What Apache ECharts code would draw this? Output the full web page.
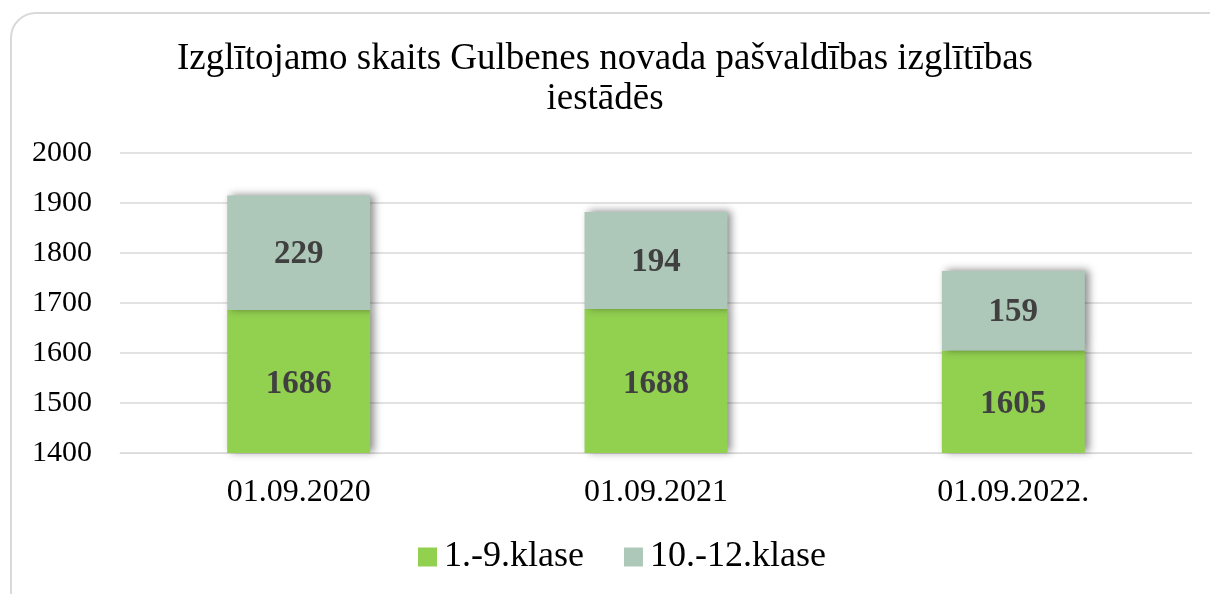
<!DOCTYPE html>
<html><head><meta charset="utf-8">
<script src="https://cdn.jsdelivr.net/npm/echarts@6/dist/echarts.min.js"></script>
<style>
html,body{margin:0;padding:0;background:#fff;}
#frame{position:absolute;left:10px;top:12px;width:1230px;height:620px;border:2px solid #d9d9d9;border-radius:26px;box-sizing:border-box;}
#c{position:absolute;left:0;top:0;width:1210px;height:594px;}
</style></head>
<body>
<div id="frame"></div>
<div id="c"></div>
<script>
const categories = ['01.09.2020', '01.09.2021', '01.09.2022.'];
const seriesNames = ['1.-9.klase', '10.-12.klase'];
const lower = [1686, 1688, 1605];
const upper = [229, 194, 159];
const titleText = 'Izglītojamo skaits Gulbenes novada pašvaldības izglītības\niestādēs';

const font = 'Liberation Serif, Times New Roman, serif';
const chart = echarts.init(document.getElementById('c'));
const shadow = {shadowColor:'rgba(0,0,0,0.45)', shadowBlur:8, shadowOffsetX:4, shadowOffsetY:-1};
chart.setOption({
  animation:false,
  title:{text:titleText,left:'center',top:34,textStyle:{fontFamily:font,fontWeight:'normal',fontSize:37,color:'#000',lineHeight:40}},
  legend:{top:534,left:413,itemWidth:19,itemHeight:19,itemGap:40,icon:'rect',
    textStyle:{fontFamily:font,fontSize:36,color:'#000',padding:[0,0,0,2]},data:seriesNames},
  grid:{left:120,right:18,top:153,bottom:141,containLabel:false},
  xAxis:{type:'category',data:categories,axisTick:{show:false},
    axisLine:{lineStyle:{color:'#d9d9d9'}},
    axisLabel:{fontFamily:font,fontSize:32,color:'#000',margin:24}},
  yAxis:{type:'value',min:1400,max:2000,interval:100,
    axisLabel:{fontFamily:font,fontSize:30,color:'#000',margin:28,formatter:function(v){return String(v);}},
    splitLine:{lineStyle:{color:'#d9d9d9',width:1.5}}},
  series:[
    {name:seriesNames[0],type:'bar',stack:'a',data:lower,barWidth:'40%',
     itemStyle:Object.assign({color:'#92d050'},shadow),
     label:{show:true,position:'inside',offset:[0,3],fontFamily:font,fontWeight:'bold',fontSize:33,color:'#404040'}},
    {name:seriesNames[1],type:'bar',stack:'a',data:upper,barWidth:'40%',
     itemStyle:Object.assign({color:'#adc8b8'},shadow),
     label:{show:true,position:'inside',offset:[0,2],fontFamily:font,fontWeight:'bold',fontSize:33,color:'#404040'}}
  ]
});
</script>
</body></html>
